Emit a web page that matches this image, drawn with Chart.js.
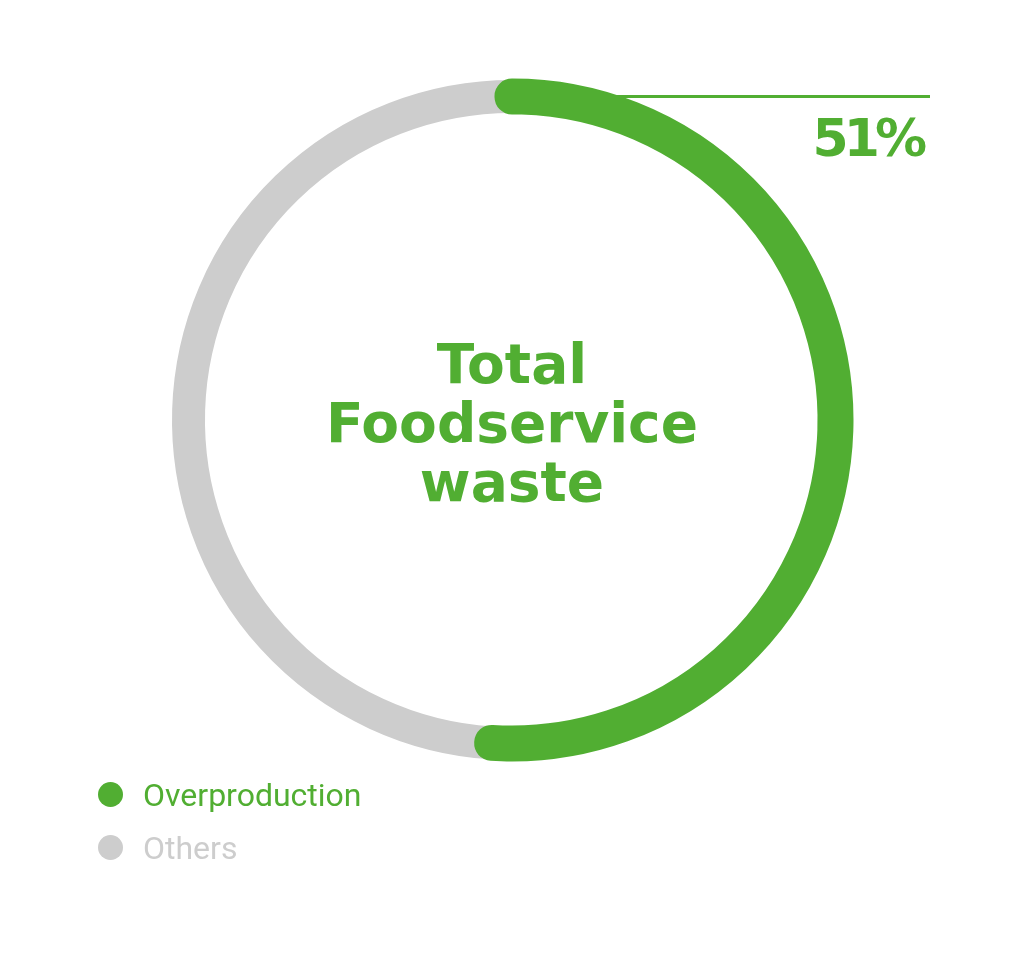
<!DOCTYPE html>
<html>
<head>
<meta charset="utf-8">
<script src="https://cdn.jsdelivr.net/npm/chart.js@4.4.1/dist/chart.umd.min.js"></script>
<style>
  html, body { margin: 0; padding: 0; background: #fff; }
  #wrap { position: relative; width: 1024px; height: 960px; }
  #legend {
    position: absolute; left: 98px; top: 768px;
    font-family: Roboto, 'Noto Sans', sans-serif; font-size: 32px;
  }
  .item { display: flex; align-items: center; height: 53px; }
  .dot { width: 25px; height: 25px; border-radius: 50%; margin-right: 20px; }
</style>
</head>
<body>
<div id="wrap">
  <canvas id="chart" width="1024" height="960"></canvas>
  <div id="legend"></div>
</div>
<script>
// ─── Data ────────────────────────────────────────────────────
const LABELS      = ['Overproduction', 'Others'];
const VALUES      = [51, 49];
const CENTER_TEXT = ['Total', 'Foodservice', 'waste'];

// ─── Colors ──────────────────────────────────────────────────
const GREEN = '#51ae32';
const GREY  = '#cdcdcd';
const SEG_COLORS = [GREEN, GREY];
const SEG_WIDTH  = [35, 32];   // stroke thickness of each ring part

// Others is drawn first so the green rounded caps sit on top of it
const order = [1, 0];
const total = VALUES.reduce((a, b) => a + b, 0);

// Center label + callout for the highlighted slice
const labelsPlugin = {
  id: 'labels',
  afterDatasetsDraw(chart) {
    const ctx = chart.ctx;
    const arc = chart.getDatasetMeta(0).data[1]; // Overproduction
    const { x, y, outerRadius, innerRadius } = arc.getProps(['x', 'y', 'outerRadius', 'innerRadius']);
    const r = (outerRadius + innerRadius) / 2;

    ctx.save();
    ctx.fillStyle = GREEN;
    ctx.textAlign = 'center';
    ctx.textBaseline = 'alphabetic';
    ctx.font = "bold 55px 'DejaVu Sans', sans-serif";
    CENTER_TEXT.forEach((t, i) => ctx.fillText(t, x, y + 22 + (i - 1) * 59));

    // callout line from the start of the green arc
    const sy = y - r;
    ctx.strokeStyle = GREEN;
    ctx.lineWidth = 3;
    ctx.beginPath();
    ctx.moveTo(x, sy);
    ctx.lineTo(930, sy);
    ctx.stroke();

    const pct = Math.round(VALUES[0] / total * 100) + '%';
    ctx.textAlign = 'right';
    ctx.font = "bold 52px 'DejaVu Sans', sans-serif";
    ctx.letterSpacing = '-5px';
    ctx.fillText(pct, 922, sy + 60);
    ctx.restore();
  },
};

new Chart(document.getElementById('chart'), {
  type: 'doughnut',
  data: {
    labels: order.map(i => LABELS[i]),
    datasets: [{
      data:            order.map(i => VALUES[i]),
      backgroundColor: order.map(i => SEG_COLORS[i]),
      borderColor:     order.map(i => SEG_COLORS[i]),
      borderWidth:     order.map(i => SEG_WIDTH[i]),
      borderJoinStyle: 'round',
      borderAlign:     'center',
    }],
  },
  options: {
    responsive: false,
    animation:  false,
    radius:     324,
    cutout:     '99.7%',
    rotation:   -360 * VALUES[1] / total,
    layout:     { padding: { top: 0, bottom: 120, left: 0, right: 0 } },
    events:     [],
    plugins: {
      legend:  { display: false },
      tooltip: { enabled: false },
    },
  },
  plugins: [labelsPlugin],
});

// ─── HTML legend ─────────────────────────────────────────────
const legend = document.getElementById('legend');
LABELS.forEach((l, i) => {
  const row = document.createElement('div');
  row.className = 'item';
  row.style.color = SEG_COLORS[i];
  row.innerHTML = `<span class="dot" style="background:${SEG_COLORS[i]}"></span>${l}`;
  legend.appendChild(row);
});
</script>
</body>
</html>
